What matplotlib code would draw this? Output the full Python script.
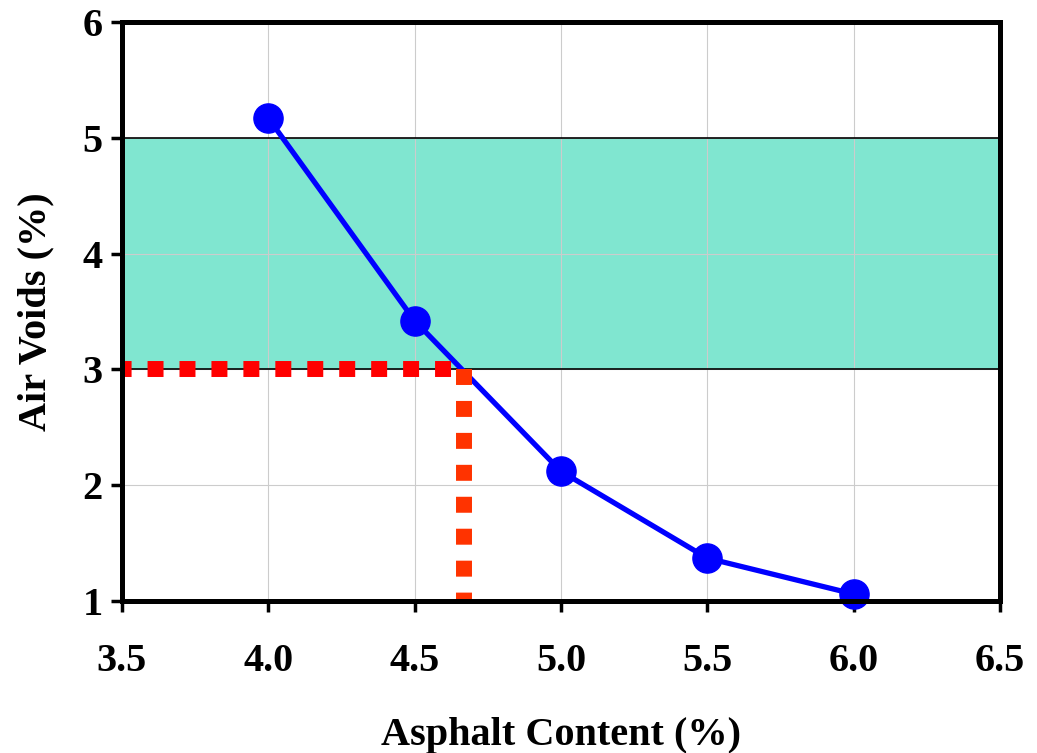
import matplotlib.pyplot as plt

# DATA
asphalt = [4.0, 4.5, 5.0, 5.5, 6.0]          # asphalt content (%)
air_voids = [5.17, 3.42, 2.12, 1.37, 1.06]   # air voids (%)
band_low, band_high = 3.0, 5.0                # target air void range
design_voids = 3.0
design_ac = 4.67
x_ticks = [3.5, 4.0, 4.5, 5.0, 5.5, 6.0, 6.5]
y_ticks = [1, 2, 3, 4, 5, 6]

plt.rcParams["font.family"] = ["Liberation Serif", "DejaVu Serif"]
plt.rcParams["font.weight"] = "bold"

fig = plt.figure(figsize=(10.37, 7.53), dpi=100)
ax = fig.add_axes([0.1176, 0.2019, 0.8467, 0.7689])

ax.set_xlim(3.5, 6.5)
ax.set_ylim(1, 6)
ax.set_xticks(x_ticks)
ax.set_yticks(y_ticks)
ax.set_xticklabels([f"{v:.1f}" for v in x_ticks])
ax.set_yticklabels([str(v) for v in y_ticks])

# grid + target band
ax.grid(True, color="#cccccc", linewidth=0.8, zorder=0)
ax.axhspan(band_low, band_high, color="#80e6d0", zorder=1, linewidth=0)
ax.axhline(band_low, color="black", linewidth=1.2, zorder=2)
ax.axhline(band_high, color="black", linewidth=1.2, zorder=2)

# air voids curve
ax.plot(asphalt, air_voids, color="#0000ff", linewidth=3.8, marker="o",
        markersize=21, zorder=4, clip_on=False)

# design asphalt content lines
ax.plot([3.5, design_ac], [design_voids, design_voids], color="#ff0000",
        linewidth=11.5, linestyle=(0.4, (1, 1)), dash_capstyle="butt", zorder=5)
ax.plot([design_ac, design_ac], [design_voids, 1], color="#ff3300",
        linewidth=11.5, linestyle=(0, (1, 1)), dash_capstyle="butt", zorder=5)

for side in ax.spines.values():
    side.set_linewidth(3.6)
    side.set_zorder(6)

ax.tick_params(direction="out", length=8, width=2.5, labelsize=29, pad=6)
ax.tick_params(axis="x", pad=22)
ax.set_xlabel("Asphalt Content (%)", fontsize=29, fontweight="bold", labelpad=27)
ax.set_ylabel("Air Voids (%)", fontsize=29, fontweight="bold", labelpad=20)

fig.savefig("out.png", dpi=100)
